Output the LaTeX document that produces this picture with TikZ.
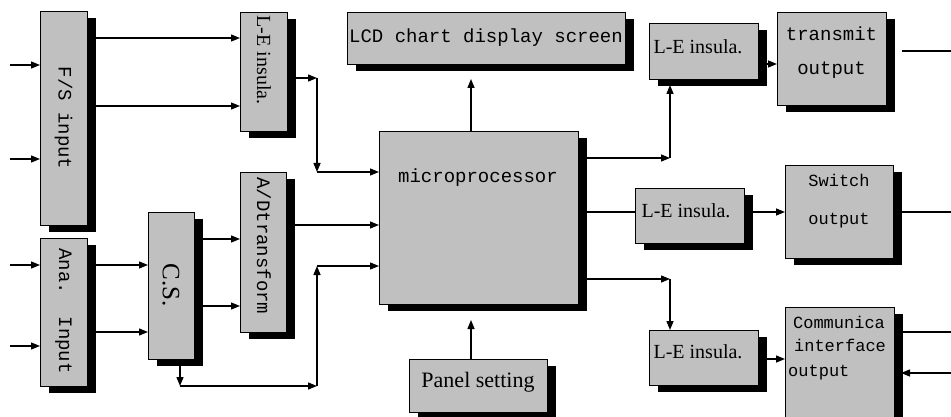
\documentclass[tikz,border=0pt]{standalone}
\usepackage{fontspec}
\setmainfont{Liberation Serif}
\newfontfamily\monofam{Liberation Mono}
\usetikzlibrary{arrows.meta,shadows}
\definecolor{boxgray}{HTML}{C0C0C0}
\tikzset{
  blk/.style={draw=black, line width=1.3pt, fill=boxgray, inner sep=0pt, anchor=north west,
    drop shadow={shadow xshift=8pt, shadow yshift=-6pt, opacity=1, fill=black}},
  arr/.style={line width=1.4pt, -{Triangle[length=9pt,width=7pt]}},
  ln/.style={line width=1.4pt},
  mtxt/.style={font=\monofam\fontsize{19}{19}\selectfont, inner sep=0pt},
  msm/.style={font=\monofam\fontsize{17}{17}\selectfont, inner sep=0pt},
  stxt/.style={font=\fontsize{20}{20}\selectfont, inner sep=0pt},
}
\begin{document}
\begin{tikzpicture}[x=1pt,y=-1pt]
\clip (0,0) rectangle (951,417);
\fill[white] (0,0) rectangle (951,417);
% boxes
\node[blk, minimum width=47pt, minimum height=214pt] (fs) at (40,11) {};
\node[blk, minimum width=47pt, minimum height=148pt] (ana) at (40,238) {};
\node[blk, minimum width=47pt, minimum height=119pt] (le1) at (240,12) {};
\node[blk, minimum width=46pt, minimum height=160pt] (ad) at (240,172) {};
\node[blk, minimum width=46pt, minimum height=147pt] (cs) at (148,212) {};
\node[blk, minimum width=199pt, minimum height=173pt] (mp) at (379,131) {};
\node[blk, minimum width=278pt, minimum height=52pt] (lcd) at (347,12) {};
\node[blk, minimum width=109pt, minimum height=56pt] (le2) at (649,23) {};
\node[blk, minimum width=109pt, minimum height=93pt] (tx) at (777,12) {};
\node[blk, minimum width=109pt, minimum height=55pt] (le3) at (635,188) {};
\node[blk, minimum width=108pt, minimum height=93pt] (sw) at (785,165) {};
\node[blk, minimum width=109pt, minimum height=55pt] (le4) at (649,330) {};
\node[blk, minimum width=109pt, minimum height=140pt] (com) at (785,307) {};
\node[blk, minimum width=138pt, minimum height=53pt] (ps) at (409,359) {};
% texts
\node[mtxt, rotate=-90] (tfs) at (63.5,118) {F/S input};
\node[mtxt, rotate=-90] (tana) at (63.5,311) {Ana.\ \ Input};
\node[stxt, rotate=-90] (tle1) at (264,60) {L-E insula.};
\node[mtxt, rotate=-90] (tad) at (264,246) {A/Dtransform};
\node[font=\fontsize{25}{25}\selectfont, inner sep=0pt, rotate=-90] (tcs) at (171,285) {C.S.};
\node[mtxt] (tmp) at (478,178) {microprocessor};
\node[mtxt] (tlcd) at (486,38) {LCD chart display screen};
\node[stxt] (tle2) at (698,47) {L-E insula.};
\node[mtxt] (ttx1) at (831.5,34) {transmit};
\node[mtxt] (ttx2) at (831.5,70) {output};
\node[stxt] (tle3) at (686,211) {L-E insula.};
\node[msm] (tsw1) at (839,180) {Switch};
\node[msm] (tsw2) at (839,221) {output};
\node[stxt] (tle4) at (698,352) {L-E insula.};
\node[msm] (tcom1) at (839,322) {Communica};
\node[msm] (tcom2) at (840,345) {interface};
\node[msm, anchor=west] (tcom3) at (788,373) {output};
\node[font=\fontsize{22}{22}\selectfont, inner sep=0pt] (tps) at (478,382) {Panel setting};
% coordinates
\coordinate (i1) at (10,65);
\coordinate (i2) at (10,159);
\coordinate (i3) at (10,265);
\coordinate (i4) at (10,346);
\coordinate (j1) at (317,78);
\coordinate (j2) at (317,172);
\coordinate (j3) at (180,386);
\coordinate (j4) at (317,386);
\coordinate (j5) at (317,266);
\coordinate (jl) at (471,79);
\coordinate (j6) at (670,158);
\coordinate (j6e) at (670,85);
\coordinate (j7) at (670,279);
\coordinate (j7e) at (670,330);
\coordinate (jp) at (471,320);
\coordinate (o1) at (902,51);
\coordinate (o1e) at (951,51);
\coordinate (o2) at (902,212);
\coordinate (o2e) at (951,212);
\coordinate (o3) at (901,332);
\coordinate (o3e) at (951,332);
\coordinate (o4) at (951,373);
% connectors
\draw[arr] (i1) -- (fs.west |- i1);
\draw[arr] (i2) -- (fs.west |- i2);
\draw[arr] (i3) -- (ana.west |- i3);
\draw[arr] (i4) -- (ana.west |- i4);
\draw[arr] (fs.east |- 0,38) -- (le1.west |- 0,38);
\draw[arr] (fs.east |- 0,106) -- (le1.west |- 0,106);
\draw[arr] (le1.east |- j1) -- (j1);
\draw[arr] (j1) -- (j2);
\draw[arr] (j2) -- (mp.west |- j2);
\draw[arr] (ana.east |- 0,265) -- (cs.west |- 0,265);
\draw[arr] (ana.east |- 0,332) -- (cs.west |- 0,332);
\draw[arr] (cs.east |- 0,239) -- (ad.west |- 0,239);
\draw[arr] (cs.east |- 0,306) -- (ad.west |- 0,306);
\draw[arr] (ad.east |- 0,225) -- (mp.west |- 0,225);
\draw[arr] (j3 |- cs.south) -- (j3);
\draw[arr] (j3) -- (j4);
\draw[arr] (j4) -- (j5);
\draw[arr] (j5) -- (mp.west |- j5);
\draw[arr] (jl |- mp.north) -- (jl);
\draw[arr] (jp |- ps.north) -- (jp);
\draw[arr] (mp.east |- j6) -- (j6);
\draw[arr] (j6) -- (j6e);
\draw[arr] (le2.east |- 0,64) -- (tx.west |- 0,64);
\draw[ln] (o1) -- (o1e);
\draw[ln] (mp.east |- 0,212) -- (le3.west |- 0,212);
\draw[arr] (le3.east |- 0,212) -- (sw.west |- 0,212);
\draw[ln] (o2) -- (o2e);
\draw[arr] (mp.east |- j7) -- (j7);
\draw[arr] (j7) -- (j7e);
\draw[arr] (le4.east |- 0,359) -- (com.west |- 0,359);
\draw[ln] (o3) -- (o3e);
\draw[arr] (o4) -- (o4 -| 901,0);
\end{tikzpicture}
\end{document}
